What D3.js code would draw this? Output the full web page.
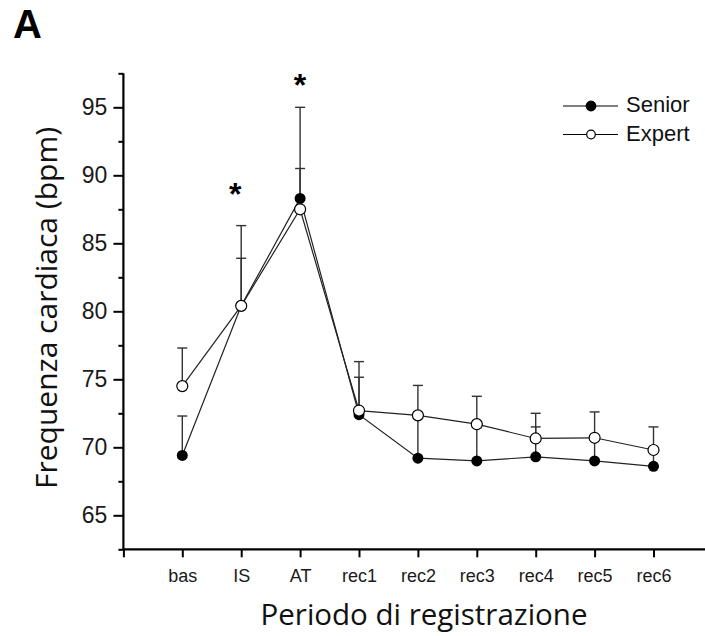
<!DOCTYPE html>
<html><head><meta charset="utf-8">
<script src="https://cdn.jsdelivr.net/npm/d3@7"></script>
<style>body{margin:0;background:#fff}svg{display:block}</style>
</head><body>
<svg id="c" width="705" height="636"></svg>
<script>
const categories = ["bas","IS","AT","rec1","rec2","rec3","rec4","rec5","rec6"];
const seniorMean = [69.4, 80.4, 88.3, 72.4, 69.2, 69.0, 69.3, 69.0, 68.6];
const seniorUpper = [72.3, 86.3, 95.0, 76.3, 72.3, 71.7, 71.5, 70.7, 69.8];
const expertMean = [74.5, 80.4, 87.5, 72.7, 72.35, 71.7, 70.65, 70.7, 69.8];
const expertUpper = [77.3, 83.9, 90.5, 75.15, 74.55, 73.75, 72.5, 72.6, 71.5];
const yTicks = [65, 70, 75, 80, 85, 90, 95];
const yMinorTicks = [62.5, 67.5, 72.5, 77.5, 82.5, 87.5, 92.5, 97.5];
const starCategories = ["IS", "AT"];
const starLevels = [88.8, 96.8];
const seriesNames = ["Senior", "Expert"];

const svg = d3.select("#c");
const x0 = 123.4, step = 58.9;
const x = d3.scaleLinear().domain([-1, 9.5]).range([x0, x0 + 10.5 * step]);
const y = d3.scaleLinear().domain([62.5, 97.5]).range([549.3, 73.3]);

// axes
const yAxis = d3.axisLeft(y).tickValues(yTicks).tickSize(10).tickPadding(6).tickFormat(d3.format("d"));
const gy = svg.append("g").attr("transform", `translate(${x0},0)`).call(yAxis);
gy.select(".domain").remove();
gy.selectAll(".tick line").attr("stroke", "#000").attr("stroke-width", 2);
gy.selectAll(".tick text").attr("font-family", "Liberation Sans, Arial, sans-serif").attr("font-size", 23).attr("fill", "#1a1a1a");
const yMinor = d3.axisLeft(y).tickValues(yMinorTicks).tickSize(5).tickFormat("");
const gym = svg.append("g").attr("transform", `translate(${x0},0)`).call(yMinor);
gym.select(".domain").remove();
gym.selectAll(".tick line").attr("stroke", "#000").attr("stroke-width", 2);

const xAxis = d3.axisBottom(x).tickValues(d3.range(-1, categories.length)).tickSize(8)
  .tickFormat(i => i >= 0 ? categories[i] : "");
const gx = svg.append("g").attr("transform", `translate(0,${y(62.5)})`).call(xAxis);
gx.select(".domain").remove();
gx.selectAll(".tick line").attr("stroke", "#000").attr("stroke-width", 2);
gx.selectAll(".tick text").attr("y", 33).attr("dy", 0)
  .attr("font-family", "Liberation Sans, Arial, sans-serif").attr("font-size", 18).attr("fill", "#1a1a1a");

svg.append("line").attr("x1", x0).attr("x2", 705).attr("y1", y(62.5)).attr("y2", y(62.5)).attr("stroke", "#000").attr("stroke-width", 2.2);
svg.append("line").attr("x1", x0).attr("x2", x0).attr("y1", y(97.5)).attr("y2", y(62.5)).attr("stroke", "#000").attr("stroke-width", 2.2);

// error bars
const capW = 10;
function errBars(mean, upper) {
  const g = svg.append("g").attr("stroke", "#333").attr("stroke-width", 1.4);
  categories.forEach((c, i) => {
    g.append("line").attr("x1", x(i)).attr("x2", x(i)).attr("y1", y(mean[i])).attr("y2", y(upper[i]));
    g.append("line").attr("x1", x(i) - capW / 2).attr("x2", x(i) + capW / 2).attr("y1", y(upper[i])).attr("y2", y(upper[i]));
  });
}
errBars(seniorMean, seniorUpper);
errBars(expertMean, expertUpper);

// lines
const line = d3.line().x((d, i) => x(i)).y(d => y(d));
svg.append("path").datum(seniorMean).attr("d", line).attr("fill", "none").attr("stroke", "#222").attr("stroke-width", 1.2);
svg.append("path").datum(expertMean).attr("d", line).attr("fill", "none").attr("stroke", "#222").attr("stroke-width", 1.2);

// markers
svg.append("g").selectAll("circle").data(seniorMean).join("circle")
  .attr("cx", (d, i) => x(i)).attr("cy", d => y(d)).attr("r", 5.5).attr("fill", "#000");
svg.append("g").selectAll("circle").data(expertMean).join("circle")
  .attr("cx", (d, i) => x(i)).attr("cy", d => y(d)).attr("r", 5.5).attr("fill", "#fff").attr("stroke", "#000").attr("stroke-width", 1.2);

// stars
starCategories.forEach((c, k) => {
  const i = categories.indexOf(c);
  svg.append("text").attr("x", x(i) - (c === "IS" ? 6 : 0)).attr("y", y(starLevels[k]) + 13)
    .attr("text-anchor", "middle").attr("font-family", "Liberation Sans, Arial, sans-serif")
    .attr("font-weight", "bold").attr("font-size", 32).text("*");
});

// legend
const legY = [106, 134.5];
seriesNames.forEach((n, k) => {
  svg.append("line").attr("x1", 563).attr("x2", 618).attr("y1", legY[k]).attr("y2", legY[k]).attr("stroke", "#000").attr("stroke-width", 1.2);
  svg.append("circle").attr("cx", 591).attr("cy", legY[k]).attr("r", k === 0 ? 4.8 : 4.3)
    .attr("fill", k === 0 ? "#000" : "#fff").attr("stroke", "#000").attr("stroke-width", 1.2);
  svg.append("text").attr("x", 626).attr("y", legY[k] + 6).attr("font-family", "Liberation Sans, Arial, sans-serif")
    .attr("font-size", 22).attr("fill", "#111").text(n);
});

// axis titles
svg.append("text").attr("x", 424).attr("y", 625).attr("text-anchor", "middle")
  .attr("font-family", "Open Sans, Noto Sans, sans-serif").attr("font-size", 29.5).attr("fill", "#111").text("Periodo di registrazione");
svg.append("text").attr("transform", "translate(57,308) rotate(-90)").attr("text-anchor", "middle")
  .attr("font-family", "Open Sans, Noto Sans, sans-serif").attr("font-size", 30).attr("fill", "#111").text("Frequenza cardiaca (bpm)");

svg.append("text").attr("x", 13).attr("y", 38).attr("font-family", "Liberation Sans, Arial, sans-serif")
  .attr("font-weight", "bold").attr("font-size", 40).text("A");
</script>
</body></html>
